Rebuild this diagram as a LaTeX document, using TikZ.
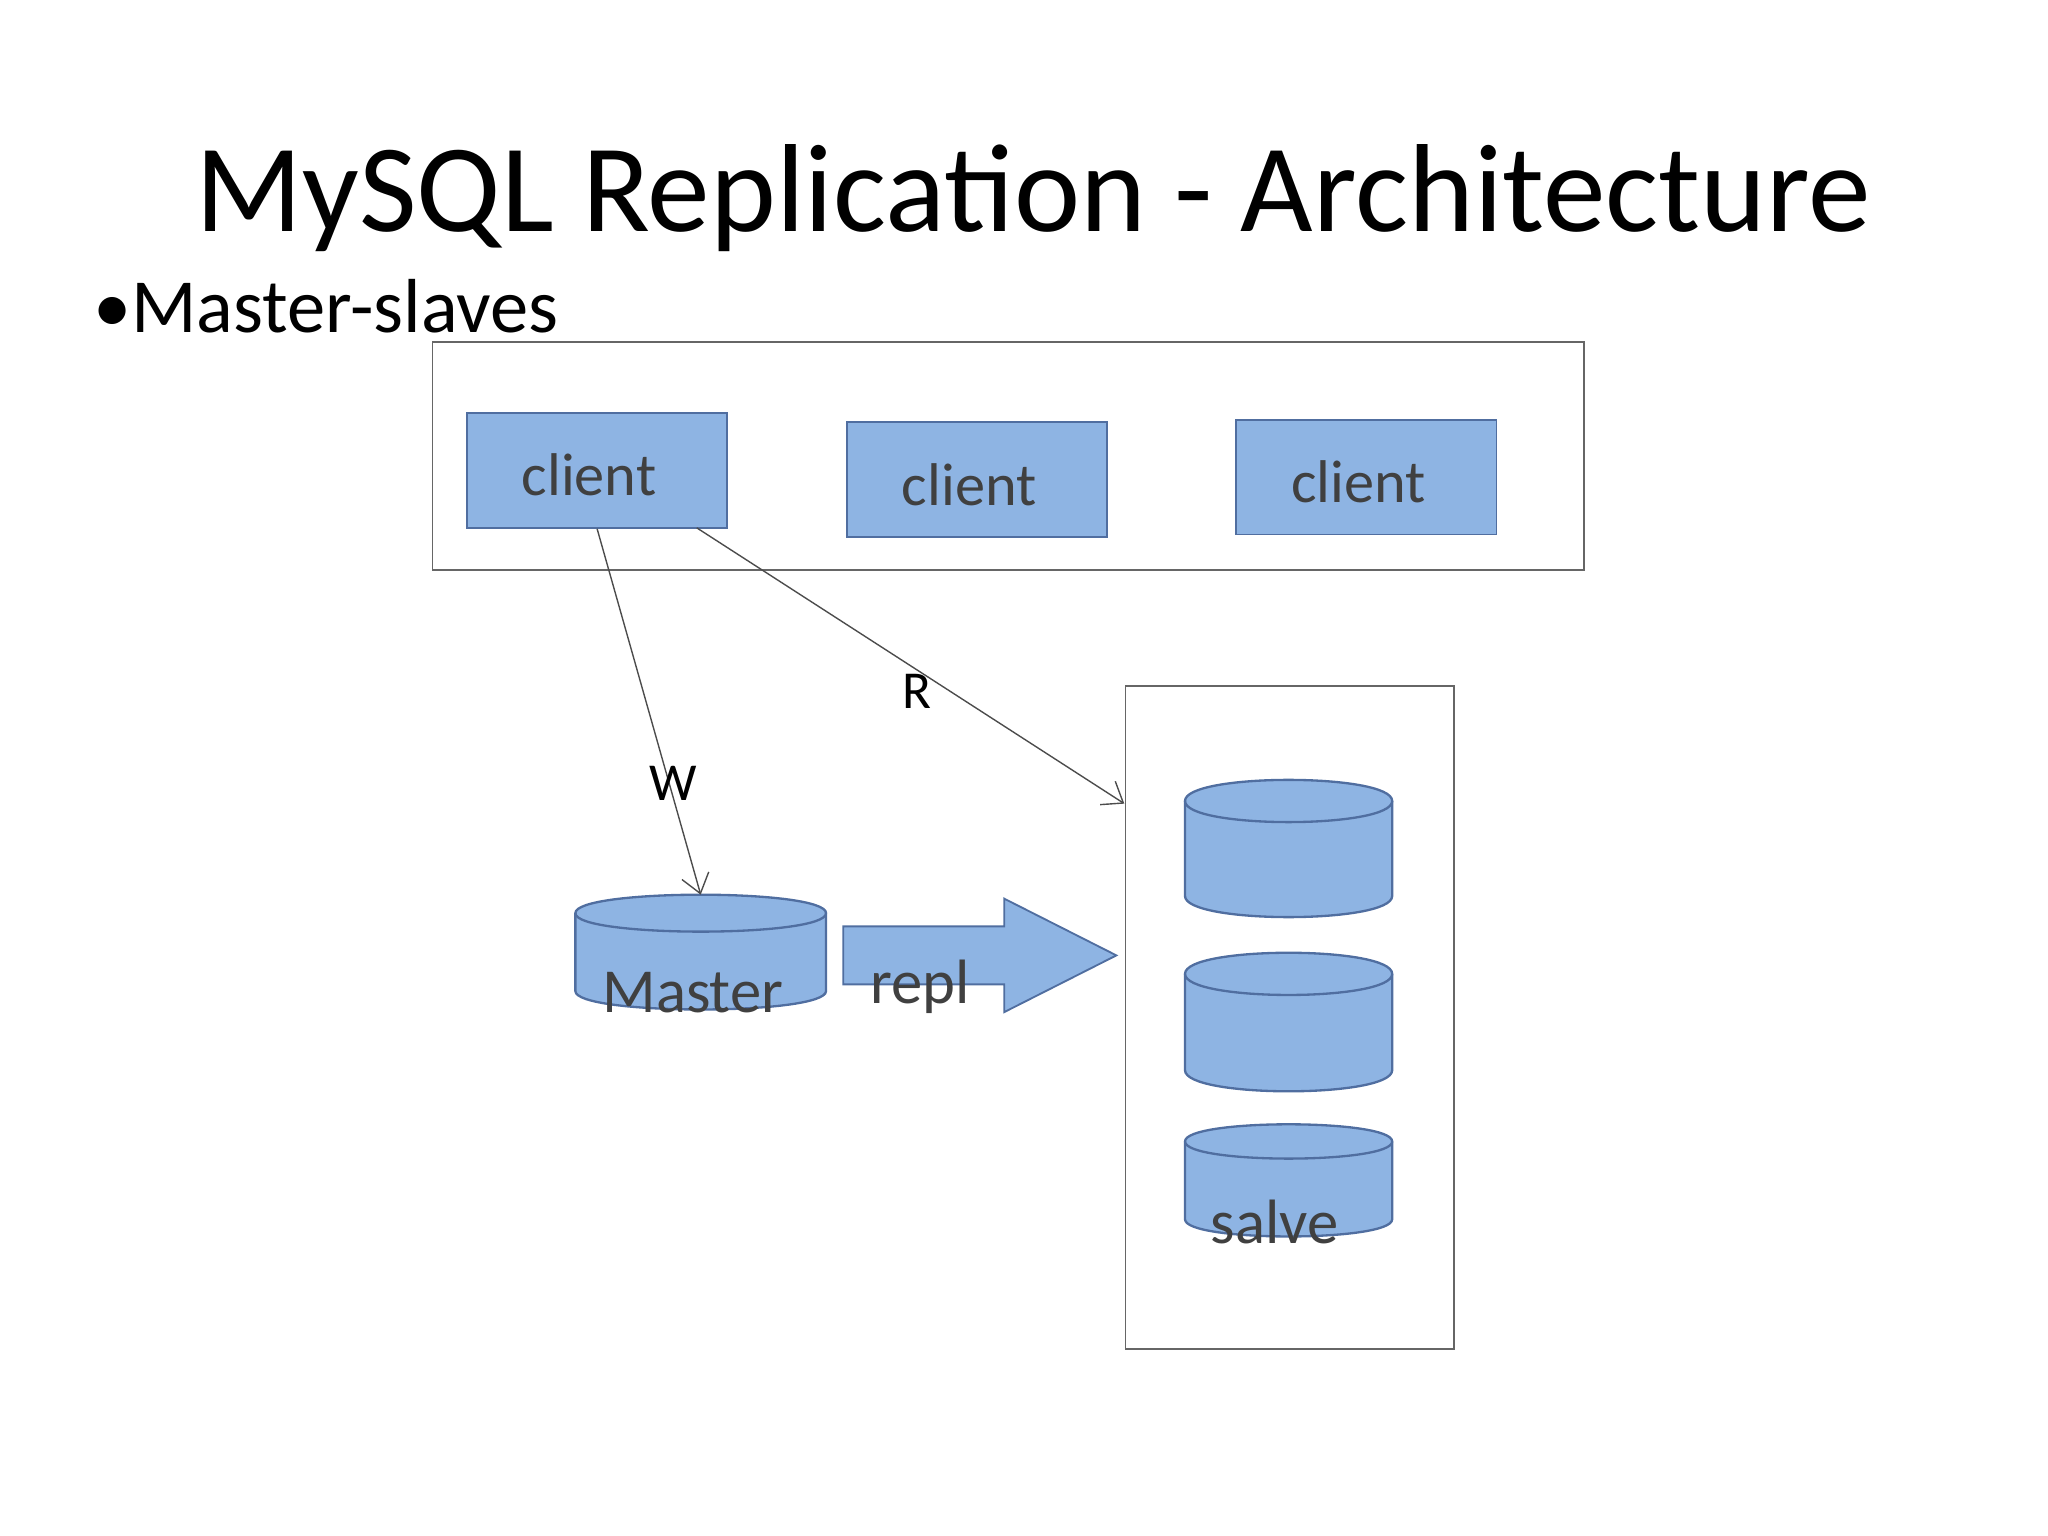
\documentclass[tikz,border=0pt]{standalone}
\usepackage{fontspec}
\setmainfont{Carlito}
\usetikzlibrary{arrows.meta}
\definecolor{bfill}{RGB}{142,180,227}
\definecolor{bdraw}{RGB}{80,110,160}
\definecolor{txt}{RGB}{64,64,64}
\newcommand{\mycyl}[6]{% name, cx, ytop(center of top ellipse), ybot, rx, ry
  \filldraw[draw=bdraw,fill=bfill,line width=0.5pt]
    (#2-#5,#3) -- (#2-#5,#4) .. controls (#2-#5,#4+1.333*#6) and (#2+#5,#4+1.333*#6) .. (#2+#5,#4)
    -- (#2+#5,#3) .. controls (#2+#5,#3-1.333*#6) and (#2-#5,#3-1.333*#6) .. (#2-#5,#3) -- cycle;
  \draw[draw=bdraw,line width=0.5pt] (#2-#5,#3) .. controls (#2-#5,#3+1.333*#6) and (#2+#5,#3+1.333*#6) .. (#2+#5,#3);
  \coordinate (#1) at (#2,#3-#6);}
\begin{document}
\begin{tikzpicture}[x=0.01cm,y=-0.01cm,
  box/.style={draw=bdraw,fill=bfill,minimum width=1.97cm,minimum height=0.87cm,inner sep=0},
  ctext/.style={text=txt,font=\fontsize{13}{16}\selectfont,anchor=west},
  frame/.style={draw=black!60,line width=0.4pt},
  conn/.style={draw=black!70,line width=0.3pt,-{Straight Barb[length=4pt,width=6pt]}},
  lbl/.style={font=\fontsize{11.5}{14}\selectfont}]
\useasboundingbox (0,0) rectangle (1552,1164);
\node[font=\fontsize{27}{30}\selectfont] (title) at (783,150) {MySQL Replication - Architecture};
\node[font=\fontsize{16.5}{20}\selectfont,anchor=west,inner sep=0] (sub) at (70,232) {•Master-slaves};
\node[frame,minimum width=8.72cm,minimum height=1.73cm,inner sep=0] (cbox) at (764,345.5) {};
\node[box] (c1) at (452.5,356.5) {};
\node[box] (c2) at (740.5,363.5) {};
\node[box] (c3) at (1035.5,361.5) {};
\node[ctext] at (383,360) {client};
\node[ctext] at (671,367) {client};
\node[ctext] at (966,365) {client};
\node[frame,minimum width=2.49cm,minimum height=5.02cm,inner sep=0] (sbox) at (977.5,771) {};
\mycyl{s1}{976.5}{607}{679}{78.5}{16}
\mycyl{s2}{976.5}{738}{811}{78.5}{16}
\mycyl{s3}{976.5}{865}{924}{78.5}{13}
\mycyl{master}{531}{692}{751}{95}{14}
\node[text=txt,font=\fontsize{13.5}{16}\selectfont] at (525,752) {Master};
\node[text=txt,font=\fontsize{13.5}{16}\selectfont] at (966,926) {salve};
\draw[draw=bdraw,fill=bfill] (639,702) -- (761,702) -- (761,681) -- (846,724) -- (761,767) -- (761,746) -- (639,746) -- cycle;
\node[text=txt,font=\fontsize{13.5}{16}\selectfont] (repl) at (697,748) {repl};
\coordinate (rs) at (528,400);
\coordinate (re) at (852,609);
\draw[conn] (c1.south) -- (master);
\draw[conn] (rs) -- (re);
\node[lbl] at (510,594) {W};
\node[lbl] at (695,524) {R};
\end{tikzpicture}
\end{document}
